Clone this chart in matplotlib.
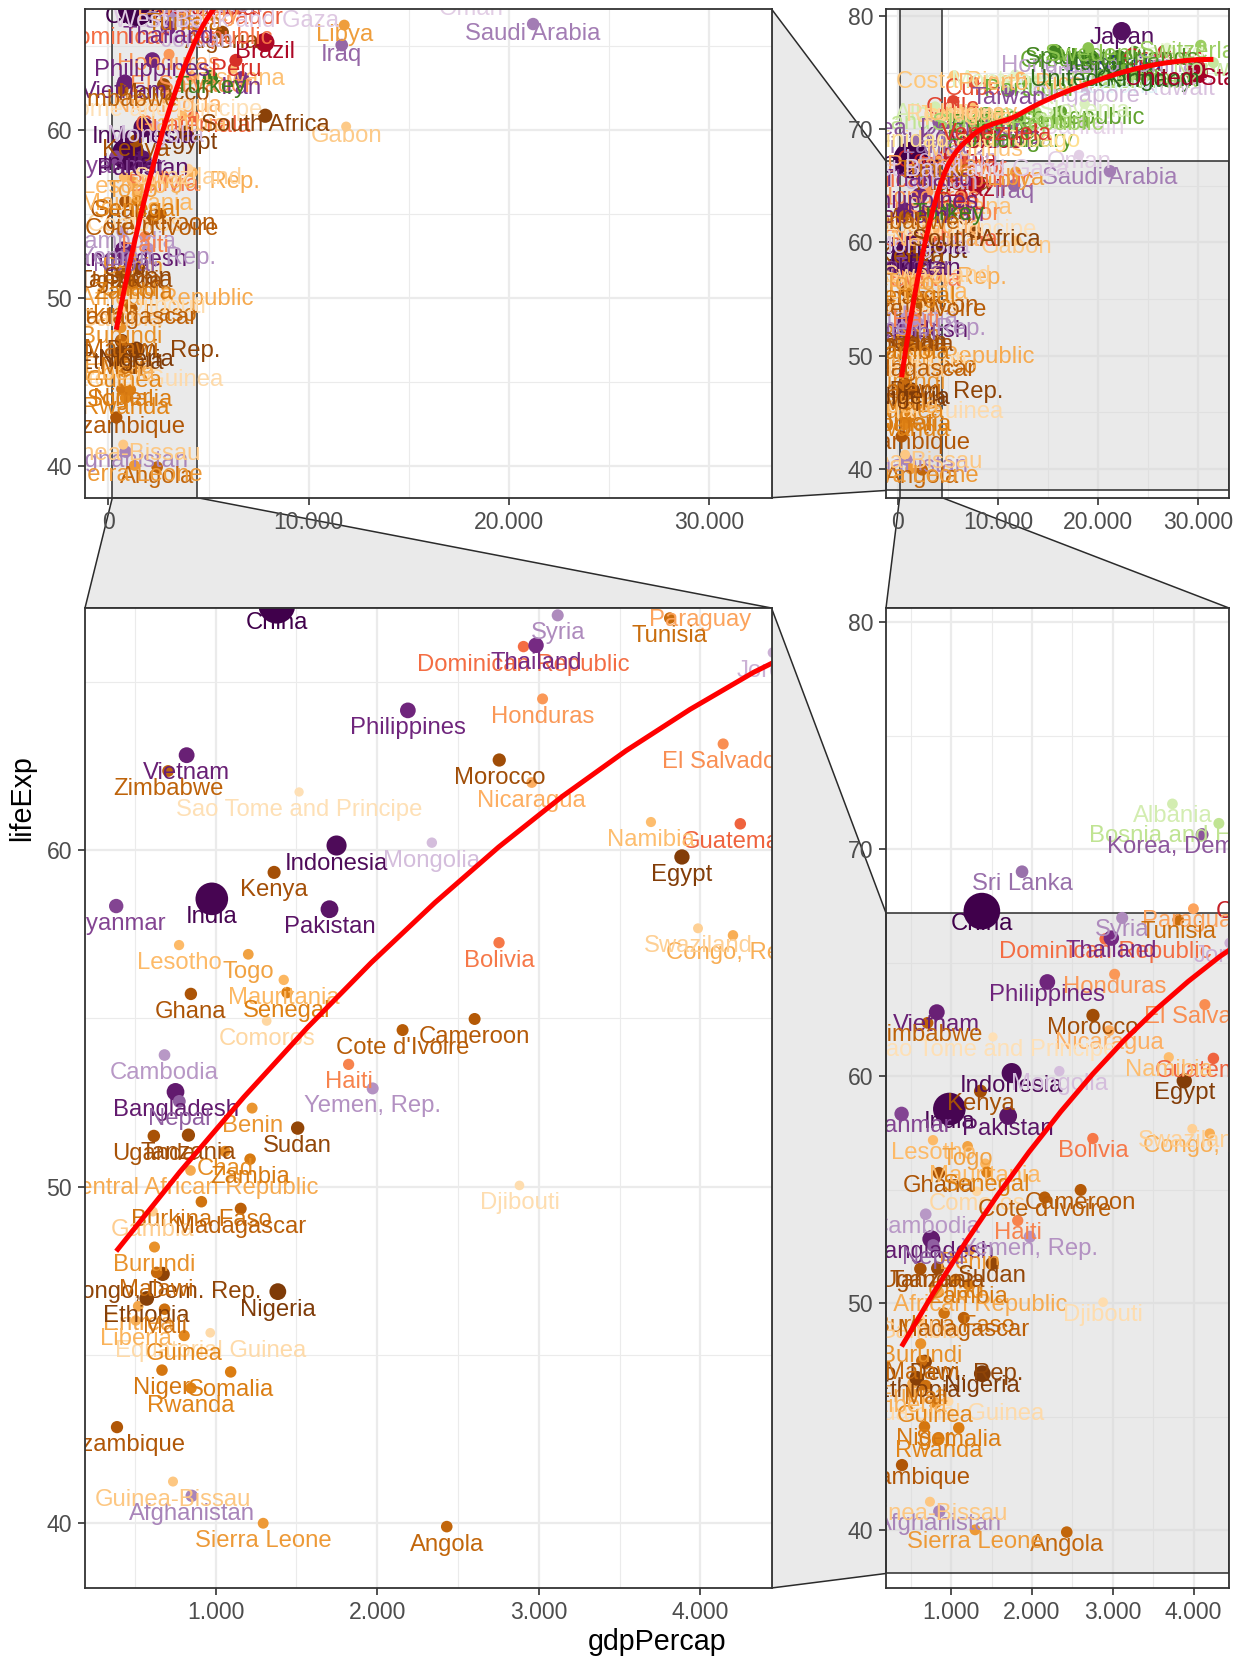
import numpy as np
import matplotlib
matplotlib.use("Agg")
import matplotlib.pyplot as plt
from matplotlib.patches import Polygon, Rectangle
from matplotlib.transforms import ScaledTranslation, blended_transform_factory
from matplotlib.colors import to_rgb

plt.rcParams['font.family'] = ['Liberation Sans', 'DejaVu Sans']

# ---------------- data (gapminder, 1987) ----------------
country = ["Afghanistan", "Albania", "Algeria", "Angola", "Argentina", "Australia", "Austria", "Bahrain",
           "Bangladesh", "Belgium", "Benin", "Bolivia", "Bosnia and Herzegovina", "Botswana", "Brazil",
           "Bulgaria", "Burkina Faso", "Burundi", "Cambodia", "Cameroon", "Canada", "Central African Republic",
           "Chad", "Chile", "China", "Colombia", "Comoros", "Congo, Dem. Rep.", "Congo, Rep.", "Costa Rica",
           "Cote d'Ivoire", "Croatia", "Cuba", "Czech Republic", "Denmark", "Djibouti", "Dominican Republic",
           "Ecuador", "Egypt", "El Salvador", "Equatorial Guinea", "Eritrea", "Ethiopia", "Finland", "France",
           "Gabon", "Gambia", "Germany", "Ghana", "Greece", "Guatemala", "Guinea", "Guinea-Bissau", "Haiti",
           "Honduras", "Hong Kong, China", "Hungary", "Iceland", "India", "Indonesia", "Iran", "Iraq", "Ireland",
           "Israel", "Italy", "Jamaica", "Japan", "Jordan", "Kenya", "Korea, Dem. Rep.", "Korea, Rep.", "Kuwait",
           "Lebanon", "Lesotho", "Liberia", "Libya", "Madagascar", "Malawi", "Malaysia", "Mali", "Mauritania",
           "Mauritius", "Mexico", "Mongolia", "Montenegro", "Morocco", "Mozambique", "Myanmar", "Namibia",
           "Nepal", "Netherlands", "New Zealand", "Nicaragua", "Niger", "Nigeria", "Norway", "Oman", "Pakistan",
           "Panama", "Paraguay", "Peru", "Philippines", "Poland", "Portugal", "Puerto Rico", "Reunion", "Romania",
           "Rwanda", "Sao Tome and Principe", "Saudi Arabia", "Senegal", "Serbia", "Sierra Leone", "Singapore",
           "Slovak Republic", "Slovenia", "Somalia", "South Africa", "Spain", "Sri Lanka", "Sudan", "Swaziland",
           "Sweden", "Switzerland", "Syria", "Taiwan", "Tanzania", "Thailand", "Togo", "Trinidad and Tobago",
           "Tunisia", "Turkey", "Uganda", "United Kingdom", "United States", "Uruguay", "Venezuela", "Vietnam",
           "West Bank and Gaza", "Yemen, Rep.", "Zambia", "Zimbabwe"]

continent = ["Asia", "Europe", "Africa", "Africa", "Americas", "Oceania", "Europe", "Asia",
             "Asia", "Europe", "Africa", "Americas", "Europe", "Africa", "Americas",
             "Europe", "Africa", "Africa", "Asia", "Africa", "Americas", "Africa",
             "Africa", "Americas", "Asia", "Americas", "Africa", "Africa", "Africa", "Americas",
             "Africa", "Europe", "Americas", "Europe", "Europe", "Africa", "Americas",
             "Americas", "Africa", "Americas", "Africa", "Africa", "Africa", "Europe", "Europe",
             "Africa", "Africa", "Europe", "Africa", "Europe", "Americas", "Africa", "Africa", "Americas",
             "Americas", "Asia", "Europe", "Europe", "Asia", "Asia", "Asia", "Asia", "Europe",
             "Asia", "Europe", "Americas", "Asia", "Asia", "Africa", "Asia", "Asia", "Asia",
             "Asia", "Africa", "Africa", "Africa", "Africa", "Africa", "Asia", "Africa", "Africa",
             "Africa", "Americas", "Asia", "Europe", "Africa", "Africa", "Asia", "Africa",
             "Asia", "Europe", "Oceania", "Americas", "Africa", "Africa", "Europe", "Asia", "Asia",
             "Americas", "Americas", "Americas", "Asia", "Europe", "Europe", "Americas", "Africa", "Europe",
             "Africa", "Africa", "Asia", "Africa", "Europe", "Africa", "Asia",
             "Europe", "Europe", "Africa", "Africa", "Europe", "Asia", "Africa", "Africa",
             "Europe", "Europe", "Asia", "Asia", "Africa", "Asia", "Africa", "Americas",
             "Africa", "Europe", "Africa", "Europe", "Americas", "Americas", "Americas", "Asia",
             "Asia", "Asia", "Africa", "Africa"]

lifeExp = [40.822, 72.0, 65.799, 39.906, 70.774, 76.32, 74.94, 70.75,
           52.819, 75.35, 52.337, 57.251, 71.14, 63.622, 65.205,
           71.34, 49.557, 48.211, 53.914, 54.985, 76.86, 50.485,
           51.051, 72.492, 67.274, 67.768, 54.926, 47.412, 57.47, 74.752,
           54.655, 71.52, 74.174, 71.58, 74.8, 50.04, 66.046,
           67.231, 59.797, 63.154, 45.664, 46.453, 46.684, 74.83, 76.34,
           60.19, 49.265, 74.847, 55.729, 76.67, 60.782, 45.58, 41.245, 53.636,
           64.492, 76.2, 69.58, 77.23, 58.553, 60.137, 63.04, 65.044, 74.36,
           75.6, 76.42, 71.77, 78.67, 65.869, 59.339, 70.647, 69.81, 74.174,
           67.926, 57.18, 46.027, 66.234, 49.35, 47.457, 69.5, 46.364, 56.145,
           68.74, 69.498, 60.222, 74.865, 62.677, 42.861, 58.339, 60.835,
           52.537, 76.83, 74.32, 62.008, 44.555, 46.886, 75.89, 67.734, 58.245,
           71.523, 67.378, 64.134, 64.151, 70.98, 74.06, 74.63, 71.913, 69.53,
           44.02, 61.728, 66.295, 55.769, 71.218, 40.006, 73.56,
           71.08, 72.25, 44.501, 60.834, 76.88, 69.011, 51.744, 57.678,
           77.19, 77.41, 66.974, 73.4, 51.535, 66.084, 56.906, 69.582,
           66.894, 63.108, 51.509, 75.007, 75.02, 71.918, 70.19, 62.82,
           67.046, 52.922, 50.821, 62.351]

gdpPercap = [852.4, 3738.93, 5681.36, 2430.21, 9139.67, 21888.89, 23687.83, 18524.02,
             751.98, 22525.56, 1225.86, 2753.69, 4314.11, 6205.88, 7807.1,
             8239.85, 912.06, 621.82, 683.9, 2602.66, 26626.52, 844.88,
             1058.07, 5547.06, 1378.9, 4903.22, 1315.98, 672.77, 4201.19, 5629.92,
             2156.96, 13822.58, 7532.92, 16310.44, 25116.18, 2880.1, 2905.0,
             6481.78, 3885.46, 4140.44, 966.9, 521.13, 573.74, 21141.01, 22066.44,
             11864.41, 611.66, 24639.19, 847.01, 16120.53, 4246.49, 805.57, 736.42, 1823.02,
             3023.1, 20038.47, 12986.48, 26923.21, 976.51, 1748.36, 6650.0, 11643.57, 13872.87,
             17122.48, 19207.23, 6351.24, 22375.94, 4448.68, 1361.94, 4106.49, 8533.09, 28118.43,
             5377.09, 773.99, 506.11, 11770.59, 1155.44, 635.52, 7486.38, 684.17, 1421.6,
             7688.8, 8688.16, 2338.01, 11732.51, 2755.05, 389.88, 385.0, 3693.73,
             775.63, 23651.32, 19007.19, 2955.98, 668.3, 1385.03, 31540.97, 18115.22, 1704.69,
             7034.78, 3998.88, 6360.94, 2189.63, 9082.35, 13039.31, 12281.34, 5303.38, 9696.27,
             847.99, 1516.53, 21198.26, 1441.72, 15870.88, 1294.45, 18861.53,
             12037.27, 18678.53, 1093.24, 7825.82, 15764.98, 1876.77, 1507.82, 3984.84,
             19035.58, 30281.7, 3116.77, 11054.56, 831.82, 2982.65, 1202.2, 7388.6,
             3810.0, 5089.04, 617.72, 21664.79, 29884.35, 7452.4, 9883.58, 820.8,
             5903.09, 1971.74, 1213.32, 706.16]

pop = [13867957, 3075321, 23254956, 7874230, 31620918, 16257249, 7578903, 454612,
       103764241, 9870200, 4243788, 6156369, 4338977, 1151184, 142938076,
       8971958, 7586551, 4580410, 8371791, 10780667, 26549700, 2840009,
       4875118, 12463354, 1084035000, 30964245, 395114, 35481645, 2064095, 2799811,
       10761098, 4484310, 10239839, 10311597, 5127024, 311025, 6655297,
       9545158, 52799062, 4842194, 341244, 2915959, 42999530, 4931729, 55630100,
       880397, 848406, 77718298, 14168101, 9974490, 7326406, 5650262, 927524, 5756203,
       4372203, 5584510, 10612740, 244676, 788000000, 169276000, 51889696, 16543189, 3539900,
       4203148, 56729703, 2326606, 122091325, 2820042, 21198082, 19067554, 41622000, 1891487,
       3086876, 1599200, 1912974, 3799845, 10568642, 7824747, 16331785, 7634008, 1841240,
       1042663, 80122492, 2015133, 569473, 22987397, 12891952, 38028578, 1278184,
       17917180, 14665278, 3317166, 3458224, 7332638, 81551520, 4186147, 1593882, 105186881,
       2253639, 3886512, 20195924, 60017788, 37740710, 9915289, 3444468, 562035, 22686371,
       6349365, 110812, 14619745, 7009601, 9230783, 3868905, 2794552,
       5199318, 1945870, 7197094, 35933379, 38880702, 16495304, 24725960, 779348,
       8421403, 6649942, 11242847, 19757799, 23040630, 55630100, 3154264, 1191336,
       7724976, 52881328, 15283050, 56981620, 242803533, 3045153, 17910182, 62826491,
       1691210, 11219340, 7272406, 9216418]

continent_palettes = {
    "Africa":   ["#7F3B08", "#B35806", "#E08214", "#FDB863", "#FEE0B6"],
    "Americas": ["#A50026", "#D73027", "#F46D43", "#FDAE61", "#FEE090"],
    "Asia":     ["#40004B", "#762A83", "#9970AB", "#C2A5CF", "#E7D4E8"],
    "Europe":   ["#276419", "#4D9221", "#7FBC41", "#B8E186", "#E6F5D0"],
    "Oceania":  ["#313695", "#4575B4", "#74ADD1", "#ABD9E9", "#E0F3F8"],
}

x_ticks_full = [0, 10000, 20000, 30000]
x_ticks_zoom = [1000, 2000, 3000, 4000]
y_ticks_full = [40, 50, 60, 70, 80]
y_ticks_zoom = [40, 50, 60]
zoom_gdp_below = 4300
zoom_life_below = 66
label_nudge_y = -0.5

# ---------------- derived ----------------
gdp = np.array(gdpPercap, float)
le = np.array(lifeExp, float)
popa = np.array(pop, float)
n = len(country)


def ramp(stops, k):
    rgb = np.array([to_rgb(c) for c in stops])
    if k == 1:
        return [tuple(rgb[0])]
    t = np.linspace(0, 1, k) * (len(stops) - 1)
    out = []
    for ti in t:
        i = min(int(np.floor(ti)), len(stops) - 2)
        f = ti - i
        out.append(tuple(rgb[i] * (1 - f) + rgb[i + 1] * f))
    return out


colors = [None] * n
for cont, stops in continent_palettes.items():
    idx = [i for i in range(n) if continent[i] == cont]
    idx.sort(key=lambda i: -popa[i])
    cols = ramp(stops, len(idx))
    for j, i in enumerate(idx):
        colors[i] = cols[j]

# point sizes (ggplot area scale, range 1..6)
size = 1 + 5 * np.sqrt((popa - popa.min()) / (popa.max() - popa.min()))
diam_px = 3.8 + 5.48 * size
s_pts = (diam_px * 0.72) ** 2


def expand(lo, hi, mult=0.05):
    w = hi - lo
    return lo - mult * w, hi + mult * w


y_all = np.concatenate([le, le + label_nudge_y])
full_x = expand(gdp.min(), gdp.max())
full_y = expand(y_all.min(), y_all.max())
mx = gdp < zoom_gdp_below
zoom_x = expand(gdp[mx].min(), gdp[mx].max())
my = le < zoom_life_below
yz = np.concatenate([le[my], le[my] + label_nudge_y])
zoom_y = expand(yz.min(), yz.max())


# loess (span .75, degree 2) with kd-tree vertex interpolation like R
def local_fit(x0, x, y, q):
    d = np.abs(x - x0)
    h = np.sort(d)[q - 1]
    w = np.where(d < h, (1 - (d / h) ** 3) ** 3, 0.0)
    X = np.column_stack([np.ones_like(x), x - x0, (x - x0) ** 2])
    sw = np.sqrt(w)
    beta = np.linalg.lstsq(X * sw[:, None], y * sw, rcond=None)[0]
    return beta[0], beta[1]


def loess_curve(x, y, xe, span=0.75, cell=0.2):
    x = x / 1000.0
    xe = xe / 1000.0
    nn = len(x)
    q = int(np.floor(nn * span))
    fc = int(np.floor(nn * span * cell))
    xs = np.sort(x)
    verts = set()

    def split(l, u):
        if u - l + 1 <= fc:
            return
        m = ((l + 1) + (u + 1)) // 2 - 1
        v = (xs[m] + xs[m + 1]) / 2.0
        verts.add(v)
        split(l, m)
        split(m + 1, u)

    split(0, nn - 1)
    mu = 0.005 * (xs[-1] - xs[0])
    verts.add(xs[0] - mu)
    verts.add(xs[-1] + mu)
    vv = np.array(sorted(verts))
    fv = []
    dv = []
    for v in vv:
        a, b = local_fit(v, x, y, q)
        fv.append(a)
        dv.append(b)
    fv = np.array(fv)
    dv = np.array(dv)
    out = []
    for t0 in xe:
        i = np.searchsorted(vv, t0) - 1
        i = min(max(i, 0), len(vv) - 2)
        hh = vv[i + 1] - vv[i]
        t = (t0 - vv[i]) / hh
        p0 = (1 - t) ** 2 * (1 + 2 * t)
        p1 = t ** 2 * (3 - 2 * t)
        s0 = t * (1 - t) ** 2
        s1 = -t ** 2 * (1 - t)
        out.append(p0 * fv[i] + p1 * fv[i + 1] + (s0 * dv[i] + s1 * dv[i + 1]) * hh)
    return np.array(out)


smooth_x = np.linspace(gdp.min(), gdp.max(), 80)
smooth_y = loess_curve(gdp, le, smooth_x)

# ---------------- figure ----------------
W, H = 1246, 1661
fig = plt.figure(figsize=(W / 100, H / 100), dpi=100)
fig.patch.set_facecolor("white")


def rect(l, r, t, b):
    return [l / W, 1 - b / H, (r - l) / W, (b - t) / H]


L1, R1, L2, R2 = 85, 771.5, 886, 1229
T1, B1, T2, B2 = 9, 497.7, 608, 1588

ax_tl = fig.add_axes(rect(L1, R1, T1, B1))
ax_tr = fig.add_axes(rect(L2, R2, T1, B1))
ax_bl = fig.add_axes(rect(L1, R1, T2, B2))
ax_br = fig.add_axes(rect(L2, R2, T2, B2))

ZFILL = "#D6D6D6"
ZALPHA = 0.5
ZEDGE = "#2B2B2B"
label_shift = ScaledTranslation(0, -7.2 / 100, fig.dpi_scale_trans)


def fmt(v):
    return f"{int(round(v)):,}".replace(",", ".")


def minors(majors, lim):
    step = majors[1] - majors[0]
    cand = [m - step / 2 for m in majors] + [majors[-1] + step / 2]
    return [c for c in cand if lim[0] <= c <= lim[1]]


def setup(ax, xlim, ylim, xt, yt, vstrip, hstrip):
    ax.set_xlim(*xlim)
    ax.set_ylim(*ylim)
    ax.set_facecolor("white")
    for v in minors(xt, xlim):
        ax.axvline(v, color="#EBEBEB", lw=0.8, zorder=0.3)
    for v in minors(yt, ylim):
        ax.axhline(v, color="#EBEBEB", lw=0.8, zorder=0.3)
    for v in xt:
        ax.axvline(v, color="#EBEBEB", lw=1.6, zorder=0.4)
    for v in yt:
        ax.axhline(v, color="#EBEBEB", lw=1.6, zorder=0.4)
    if vstrip:
        tr = blended_transform_factory(ax.transData, ax.transAxes)
        ax.add_patch(Rectangle((zoom_x[0], 0), zoom_x[1] - zoom_x[0], 1, transform=tr,
                               facecolor=ZFILL, alpha=ZALPHA, edgecolor="none", zorder=0.6))
        ax.add_patch(Rectangle((zoom_x[0], 0), zoom_x[1] - zoom_x[0], 1, transform=tr,
                               facecolor="none", edgecolor=ZEDGE, lw=1.1, zorder=0.7))
    if hstrip:
        tr = blended_transform_factory(ax.transAxes, ax.transData)
        ax.add_patch(Rectangle((0, zoom_y[0]), 1, zoom_y[1] - zoom_y[0], transform=tr,
                               facecolor=ZFILL, alpha=ZALPHA, edgecolor="none", zorder=0.6))
        ax.add_patch(Rectangle((0, zoom_y[0]), 1, zoom_y[1] - zoom_y[0], transform=tr,
                               facecolor="none", edgecolor=ZEDGE, lw=1.1, zorder=0.7))
    ax.scatter(gdp, le, s=s_pts, c=colors, linewidths=0, zorder=2)
    tt = ax.transData + label_shift
    for i in range(n):
        ax.text(gdp[i], le[i] + label_nudge_y, country[i], transform=tt, ha="center",
                va="baseline", fontsize=17.2, color=colors[i], clip_on=True, zorder=3)
    ax.plot(smooth_x, smooth_y, color="red", lw=3.6, zorder=4, solid_capstyle="butt")
    ax.set_xticks(xt)
    ax.set_xticklabels([fmt(v) for v in xt])
    ax.set_yticks(yt)
    ax.set_yticklabels([fmt(v) for v in yt])
    ax.tick_params(direction="out", length=5.2, width=1.2, color="#333333",
                   labelsize=16.6, labelcolor="#4D4D4D", pad=4.1)
    for sp in ax.spines.values():
        sp.set_color("#333333")
        sp.set_linewidth(1.3)
        sp.set_zorder(10)


setup(ax_tl, full_x, zoom_y, x_ticks_full, y_ticks_zoom, True, False)
setup(ax_tr, full_x, full_y, x_ticks_full, y_ticks_full, True, True)
setup(ax_bl, zoom_x, zoom_y, x_ticks_zoom, y_ticks_zoom, False, False)
setup(ax_br, zoom_x, full_y, x_ticks_zoom, y_ticks_full, False, True)


def d2f(ax, x, y):
    p = ax.transData.transform((x, y))
    return fig.transFigure.inverted().transform(p)


def f(px, py):
    return (px / W, 1 - py / H)


polys = []
# top-left x-strip -> bottom-left panel
a = d2f(ax_tl, zoom_x[0], zoom_y[0]); b = d2f(ax_tl, zoom_x[1], zoom_y[0])
polys.append([(a[0], f(0, B1)[1]), (b[0], f(0, B1)[1]), f(R1, T2), f(L1, T2)])
# top-right x-strip -> bottom-right panel
a = d2f(ax_tr, zoom_x[0], full_y[0]); b = d2f(ax_tr, zoom_x[1], full_y[0])
polys.append([(a[0], f(0, B1)[1]), (b[0], f(0, B1)[1]), f(R2, T2), f(L2, T2)])
# top-left panel -> top-right y-strip
a = d2f(ax_tr, full_x[0], zoom_y[1]); b = d2f(ax_tr, full_x[0], zoom_y[0])
polys.append([f(R1, T1), (f(L2, 0)[0], a[1]), (f(L2, 0)[0], b[1]), f(R1, B1)])
# bottom-left panel -> bottom-right y-strip
a = d2f(ax_br, zoom_x[0], zoom_y[1]); b = d2f(ax_br, zoom_x[0], zoom_y[0])
polys.append([f(R1, T2), (f(L2, 0)[0], a[1]), (f(L2, 0)[0], b[1]), f(R1, B2)])

for pv in polys:
    fig.add_artist(Polygon(pv, closed=True, transform=fig.transFigure, facecolor=ZFILL,
                           alpha=ZALPHA, edgecolor="none", zorder=-2))
    fig.add_artist(Polygon(pv, closed=True, transform=fig.transFigure, facecolor="none",
                           edgecolor=ZEDGE, lw=1.1, zorder=-1))

fig.text(22 / W, 1 - 798.5 / H, "lifeExp", rotation=90, ha="center", va="center",
         fontsize=20.6, color="black")
fig.text(657 / W, 1 - 1642 / H, "gdpPercap", ha="center", va="center",
         fontsize=20.6, color="black")

fig.savefig("out.png", dpi=100, facecolor="white")
